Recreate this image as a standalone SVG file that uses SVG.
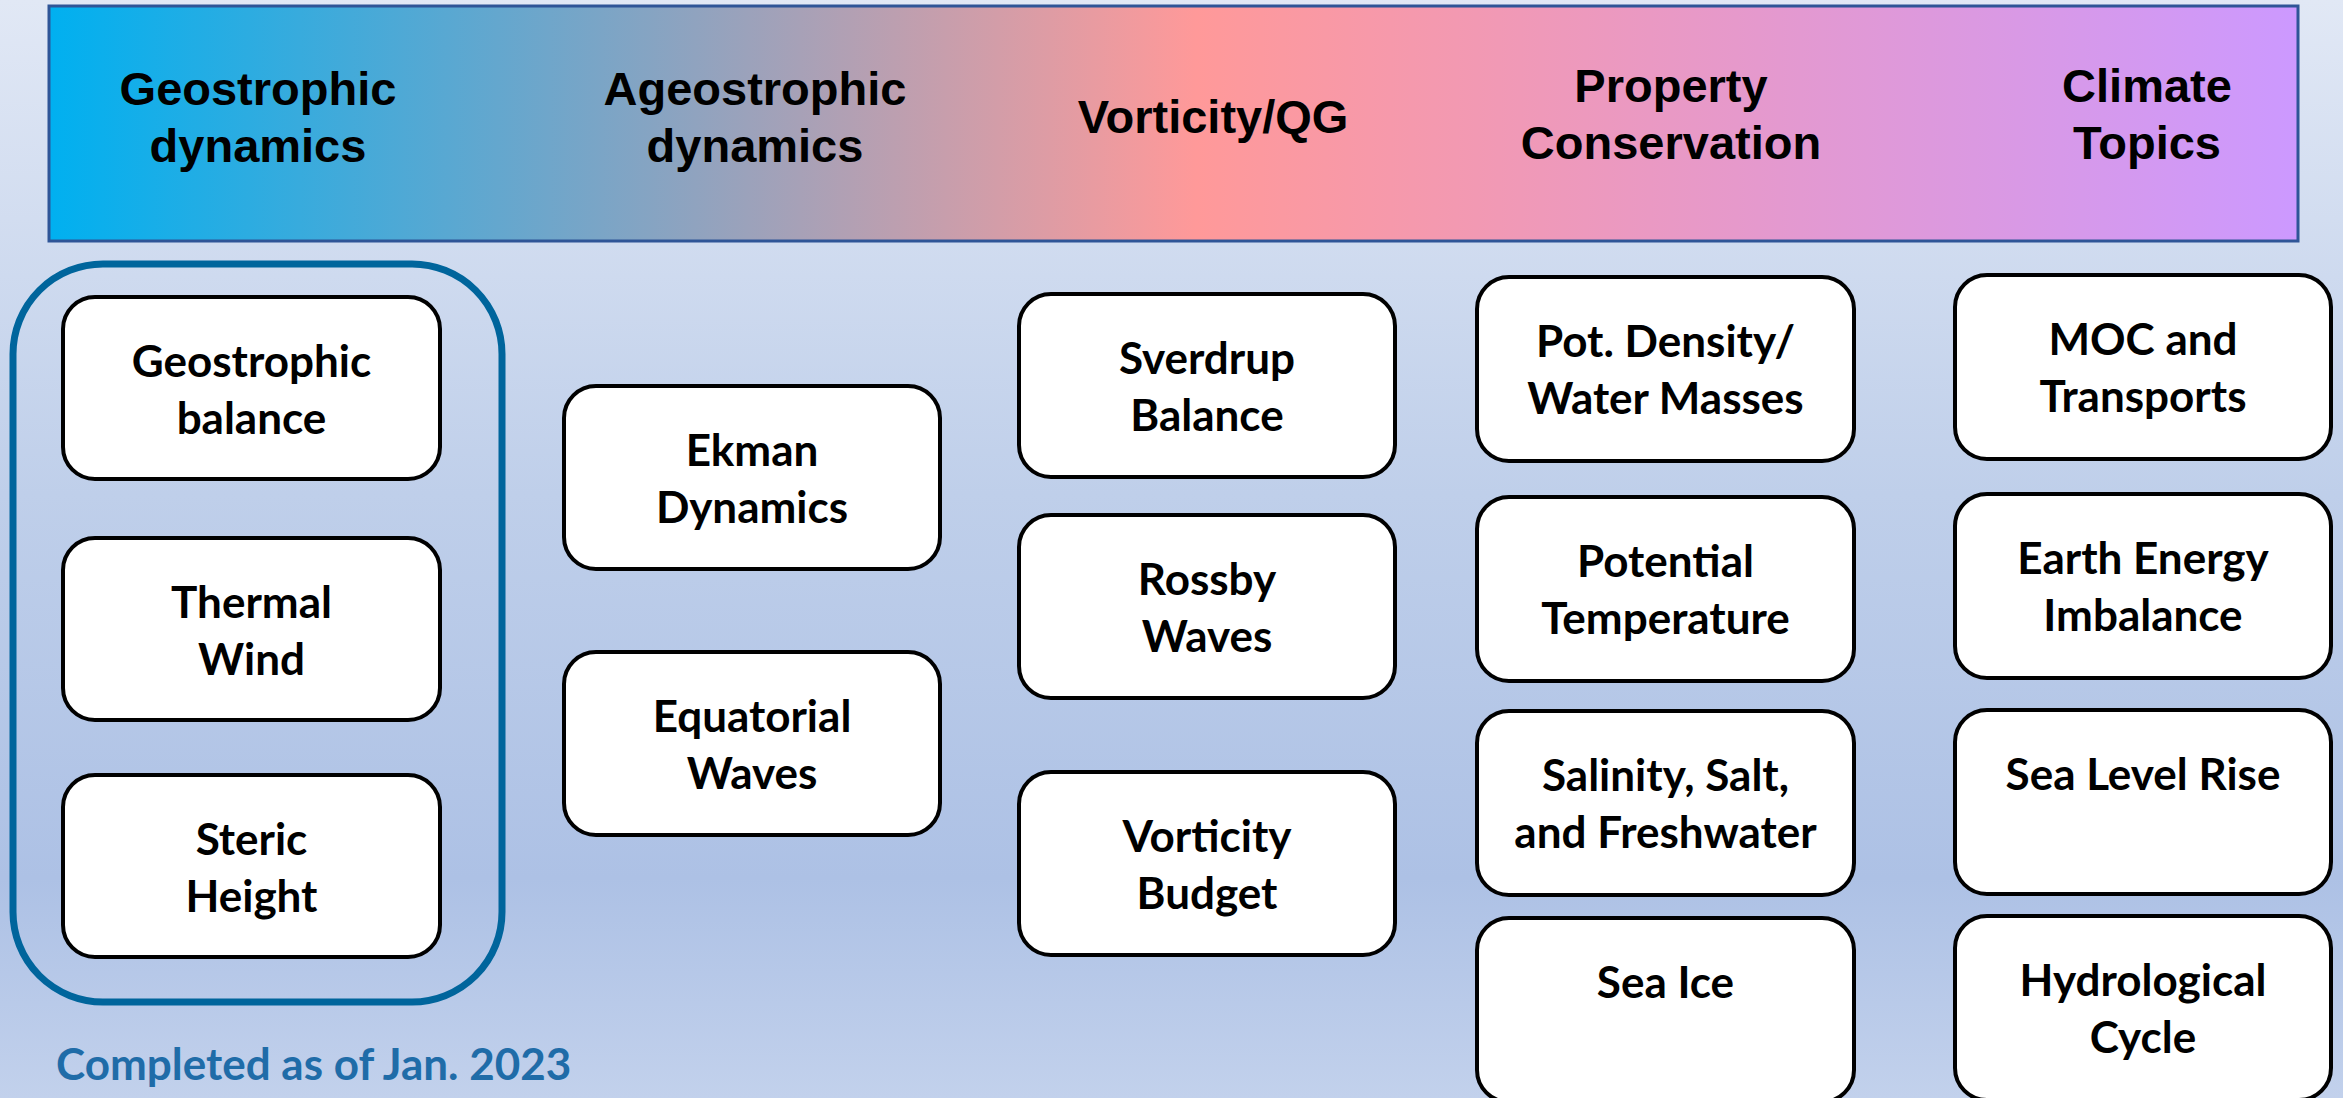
<svg xmlns="http://www.w3.org/2000/svg" width="2343" height="1098" viewBox="0 0 2343 1098">
  <defs>
    <linearGradient id="bg" x1="0" y1="0" x2="0" y2="1">
      <stop offset="0" stop-color="#E1E8F5"/>
      <stop offset="0.45" stop-color="#BFCFEA"/>
      <stop offset="0.8" stop-color="#ADC1E5"/>
      <stop offset="1" stop-color="#C2D1EC"/>
    </linearGradient>
    <linearGradient id="hdr" x1="0" y1="0" x2="1" y2="0">
      <stop offset="0" stop-color="#00B0F0"/>
      <stop offset="0.51" stop-color="#FF9999"/>
      <stop offset="1" stop-color="#CC99FF"/>
    </linearGradient>
    <style>
      .hd { font-family: "Liberation Sans", Arial, sans-serif; font-weight: bold; font-size: 47px; fill: #000; text-anchor: middle; }
      .box { fill: #FFFFFF; stroke: #000000; stroke-width: 4; }
      .lbl { font-family: Lato, "Noto Sans", sans-serif; font-weight: bold; font-size: 44px; fill: #000; text-anchor: middle; }
      .foot { font-family: Lato, "Noto Sans", sans-serif; font-weight: bold; font-size: 44px; fill: #1F6CA8; }
    </style>
  </defs>

  <rect x="0" y="0" width="2343" height="1098" fill="url(#bg)"/>

  <g id="header">
    <rect x="49" y="6" width="2249" height="235" fill="url(#hdr)" stroke="#2F5597" stroke-width="3"/>
    <text class="hd" x="258" y="105">Geostrophic</text>
    <text class="hd" x="258" y="162">dynamics</text>
    <text class="hd" x="755" y="105">Ageostrophic</text>
    <text class="hd" x="755" y="162">dynamics</text>
    <text class="hd" x="1213" y="133">Vorticity/QG</text>
    <text class="hd" x="1671" y="102">Property</text>
    <text class="hd" x="1671" y="159">Conservation</text>
    <text class="hd" x="2147" y="102">Climate</text>
    <text class="hd" x="2147" y="159">Topics</text>
  </g>

  <g id="completed-group">
    <rect x="13" y="264" width="489" height="738" rx="90" ry="90" fill="none" stroke="#00659C" stroke-width="7"/>
  </g>

  <g id="connectors"></g>

  <g id="geostrophic-balance">
    <rect class="box" x="63" y="297" width="377" height="182" rx="32"/>
    <text class="lbl" x="251.5" y="377">Geostrophic</text>
    <text class="lbl" x="251.5" y="434">balance</text>
  </g>
  <g id="thermal-wind">
    <rect class="box" x="63" y="538" width="377" height="182" rx="32"/>
    <text class="lbl" x="251.5" y="618">Thermal</text>
    <text class="lbl" x="251.5" y="675">Wind</text>
  </g>
  <g id="steric-height">
    <rect class="box" x="63" y="775" width="377" height="182" rx="32"/>
    <text class="lbl" x="251.5" y="855">Steric</text>
    <text class="lbl" x="251.5" y="912">Height</text>
  </g>

  <g id="ekman-dynamics">
    <rect class="box" x="564" y="386" width="376" height="183" rx="32"/>
    <text class="lbl" x="752" y="466">Ekman</text>
    <text class="lbl" x="752" y="523">Dynamics</text>
  </g>
  <g id="equatorial-waves">
    <rect class="box" x="564" y="652" width="376" height="183" rx="32"/>
    <text class="lbl" x="752" y="732">Equatorial</text>
    <text class="lbl" x="752" y="789">Waves</text>
  </g>

  <g id="sverdrup-balance">
    <rect class="box" x="1019" y="294" width="376" height="183" rx="32"/>
    <text class="lbl" x="1207" y="374">Sverdrup</text>
    <text class="lbl" x="1207" y="431">Balance</text>
  </g>
  <g id="rossby-waves">
    <rect class="box" x="1019" y="515" width="376" height="183" rx="32"/>
    <text class="lbl" x="1207" y="595">Rossby</text>
    <text class="lbl" x="1207" y="652">Waves</text>
  </g>
  <g id="vorticity-budget">
    <rect class="box" x="1019" y="772" width="376" height="183" rx="32"/>
    <text class="lbl" x="1207" y="852">Vorticity</text>
    <text class="lbl" x="1207" y="909">Budget</text>
  </g>

  <g id="pot-density">
    <rect class="box" x="1477" y="277" width="377" height="184" rx="32"/>
    <text class="lbl" x="1665.5" y="357">Pot. Density/</text>
    <text class="lbl" x="1665.5" y="414">Water Masses</text>
  </g>
  <g id="potential-temperature">
    <rect class="box" x="1477" y="497" width="377" height="184" rx="32"/>
    <text class="lbl" x="1665.5" y="577">Potential</text>
    <text class="lbl" x="1665.5" y="634">Temperature</text>
  </g>
  <g id="salinity">
    <rect class="box" x="1477" y="711" width="377" height="184" rx="32"/>
    <text class="lbl" x="1665.5" y="791">Salinity, Salt,</text>
    <text class="lbl" x="1665.5" y="848">and Freshwater</text>
  </g>
  <g id="sea-ice">
    <rect class="box" x="1477" y="918" width="377" height="184" rx="32"/>
    <text class="lbl" x="1665.5" y="998">Sea Ice</text>
  </g>

  <g id="moc-transports">
    <rect class="box" x="1955" y="275" width="376" height="184" rx="32"/>
    <text class="lbl" x="2143" y="355">MOC and</text>
    <text class="lbl" x="2143" y="412">Transports</text>
  </g>
  <g id="earth-energy-imbalance">
    <rect class="box" x="1955" y="494" width="376" height="184" rx="32"/>
    <text class="lbl" x="2143" y="574">Earth Energy</text>
    <text class="lbl" x="2143" y="631">Imbalance</text>
  </g>
  <g id="sea-level-rise">
    <rect class="box" x="1955" y="710" width="376" height="184" rx="32"/>
    <text class="lbl" x="2143" y="790">Sea Level Rise</text>
  </g>
  <g id="hydrological-cycle">
    <rect class="box" x="1955" y="916" width="376" height="184" rx="32"/>
    <text class="lbl" x="2143" y="996">Hydrological</text>
    <text class="lbl" x="2143" y="1053">Cycle</text>
  </g>

  <text class="foot" x="56" y="1080">Completed as of Jan. 2023</text>
</svg>
